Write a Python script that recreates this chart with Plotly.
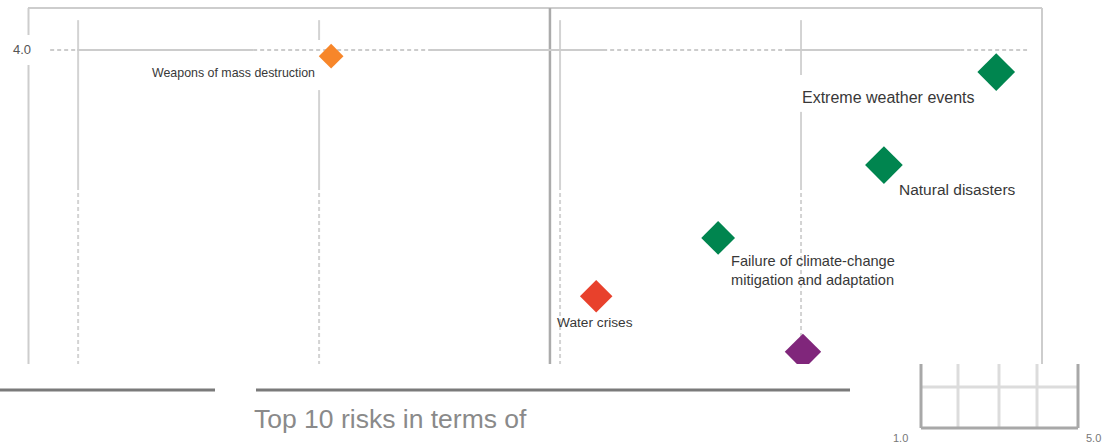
import plotly.graph_objects as go

# ---------------- data ----------------
RISK_LABELS = [
    "Weapons of mass destruction",
    "Extreme weather events",
    "Natural disasters",
    "Failure of climate-change<br>mitigation and adaptation",
    "Water crises",
    "",  # label cut off in the reference
]
RISK_CATEGORY = ["Geopolitical", "Environmental", "Environmental",
                 "Environmental", "Societal", "Technological"]
LIKELIHOOD = [2.525, 3.905, 3.672, 3.328, 3.075, 3.504]
IMPACT = [3.985, 3.947, 3.725, 3.551, 3.412, 3.279]

X_GRID = [2.0, 2.5, 3.0, 3.5]
X_AVERAGE = 2.979
Y_TICK = 4.0
Y_TICK_LABEL = "4.0"
SCALE_LABELS = ["1.0", "5.0"]
TITLE_TEXT = "Top 10 risks in terms of"

# ---------------- styles ----------------
CAT_COLORS = {
    "Geopolitical": "#f7862a",
    "Environmental": "#00854f",
    "Societal": "#e8412c",
    "Technological": "#80267b",
}
MARKER_SIZES = [19, 29, 29, 26, 25, 28]
# label offsets (pixels) relative to the marker, anchor, font size
LABEL_STYLE = [
    dict(xs=-14, ys=-17, anchor="right", size=12.4),
    dict(xs=-19, ys=-25, anchor="right", size=16),
    dict(xs=13, ys=-24, anchor="left", size=15.5),
    dict(xs=11, ys=-33, anchor="left", size=14.6),
    dict(xs=-41, ys=-26, anchor="left", size=13.7),
    dict(xs=0, ys=0, anchor="left", size=12),
]

W, H = 1111, 448
PLOT_L, PLOT_R, PLOT_T, PLOT_B = 28, 1042, 8, 364
X_RANGE = [1.896, 4.0]
Y_RANGE = [3.25, 4.1]
FONT = "Liberation Sans, Arial, sans-serif"

GRID_COLOR = "#d3d3d3"
FRAME_COLOR = "#cdcdcd"
DASH = "4px,3px"


def px(x):
    return x / W


def py(y):
    return 1 - y / H


fig = go.Figure()

fig.add_trace(go.Scatter(
    x=LIKELIHOOD, y=IMPACT, mode="markers",
    marker=dict(symbol="diamond", size=MARKER_SIZES, opacity=1,
                color=[CAT_COLORS[c] for c in RISK_CATEGORY],
                line=dict(width=0)),
    hoverinfo="skip", cliponaxis=True,
))

shapes = []


def dline(x0, y0, x1, y1, color=GRID_COLOR, width=2, dash="solid"):
    shapes.append(dict(type="line", xref="x", yref="y", x0=x0, y0=y0, x1=x1, y1=y1,
                       line=dict(color=color, width=width, dash=dash), layer="below"))


def pline(x0, y0, x1, y1, color=FRAME_COLOR, width=2, dash="solid"):
    shapes.append(dict(type="line", xref="paper", yref="paper",
                       x0=px(x0), y0=py(y0), x1=px(x1), y1=py(y1),
                       line=dict(color=color, width=width, dash=dash), layer="below"))


# frame
pline(PLOT_L, PLOT_T, PLOT_R, PLOT_T)
pline(PLOT_L + 0.5, PLOT_T, PLOT_L + 0.5, 35)
pline(PLOT_L + 0.5, 65, PLOT_L + 0.5, PLOT_B)
pline(PLOT_R, PLOT_T, PLOT_R, PLOT_B)

# vertical grid lines: solid upper part, dashed lower part
GRID_TOP, GRID_SPLIT = 4.071, 3.675
GAPS = {2.5: (4.0236, 3.904), 3.5: (3.940, 3.852)}
for gx in X_GRID:
    if gx in GAPS:
        g0, g1 = GAPS[gx]
        dline(gx, GRID_TOP, gx, g0)
        dline(gx, g1, gx, GRID_SPLIT)
    else:
        dline(gx, GRID_TOP, gx, GRID_SPLIT)
    dline(gx, GRID_SPLIT, gx, Y_RANGE[0], dash=DASH)

# average divider
dline(X_AVERAGE, Y_RANGE[1], X_AVERAGE, Y_RANGE[0], color="#ababab", width=2.5)

# horizontal 4.0 line: dashed with solid stretches
dline(1.942, Y_TICK, 3.969, Y_TICK, color="#cccccc", dash=DASH)
for a, b in [(1.998, 2.363), (2.734, 3.097), (3.467, 3.830)]:
    dline(a, Y_TICK, b, Y_TICK, color="#cccccc")

# bottom rules
pline(0, 390, 215, 390, color="#7a7a7a", width=3)
pline(256, 390, 850, 390, color="#7a7a7a", width=3)

# mini scale box
for xx in [958, 999, 1037]:
    pline(xx, 364, xx, 427, color="#dcdcdc", width=3)
pline(921, 387, 1078, 387, color="#dcdcdc", width=3)
pline(921, 364, 921, 428, color="#a8a8a8", width=3)
pline(1078, 364, 1078, 428, color="#a8a8a8", width=3)
pline(921, 428, 1078, 428, color="#a8a8a8", width=3)

annotations = []
for lab, x, y, st in zip(RISK_LABELS, LIKELIHOOD, IMPACT, LABEL_STYLE):
    if not lab:
        continue
    annotations.append(dict(
        x=x, y=y, xref="x", yref="y", text=lab, showarrow=False,
        xanchor=st["anchor"], yanchor="middle", xshift=st["xs"], yshift=st["ys"],
        align="left", font=dict(family=FONT, size=st["size"], color="#383838"),
    ))

annotations.append(dict(
    x=px(22), y=Y_TICK, xref="paper", yref="y", text=Y_TICK_LABEL, showarrow=False,
    xanchor="center", yanchor="middle", font=dict(family=FONT, size=13, color="#555555"),
))
annotations.append(dict(
    x=px(252), y=py(419), xref="paper", yref="paper", text=TITLE_TEXT, showarrow=False,
    xanchor="left", yanchor="middle", font=dict(family=FONT, size=26.5, color="#8a8a8a"),
))
for lab, xx in zip(SCALE_LABELS, [900, 1093]):
    annotations.append(dict(
        x=px(xx), y=py(438), xref="paper", yref="paper", text=lab, showarrow=False,
        xanchor="center", yanchor="middle", font=dict(family=FONT, size=11, color="#777777"),
    ))

fig.update_layout(
    width=W, height=H, margin=dict(l=0, r=0, t=0, b=0),
    paper_bgcolor="white", plot_bgcolor="white", showlegend=False,
    xaxis=dict(domain=[px(PLOT_L), px(PLOT_R)], range=X_RANGE, showgrid=False,
               zeroline=False, showticklabels=False, ticks="", showline=False),
    yaxis=dict(domain=[py(PLOT_B), py(PLOT_T)], range=Y_RANGE, showgrid=False,
               zeroline=False, showticklabels=False, ticks="", showline=False),
    shapes=shapes, annotations=annotations,
)

fig.write_html("out.html", config={"displayModeBar": False})
